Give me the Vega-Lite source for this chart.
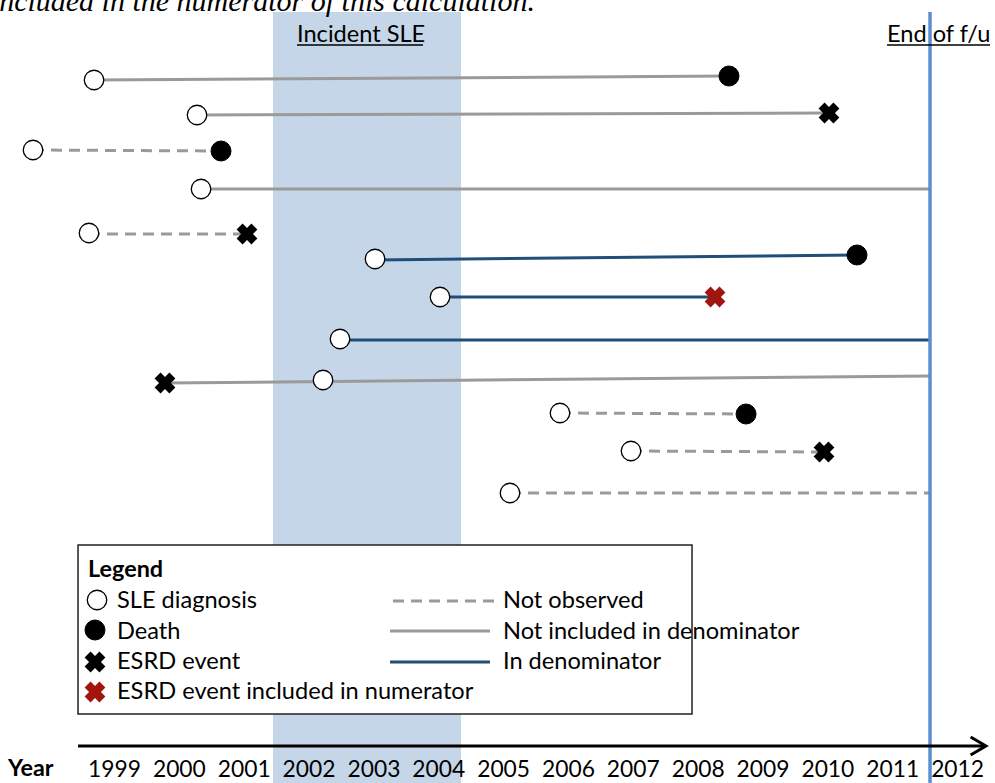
{
  "$schema": "https://vega.github.io/schema/vega-lite/v6.json",
  "width": 995,
  "height": 783,
  "autosize": "none",
  "padding": 0,
  "background": "white",
  "config": {"view": {"stroke": null}},
  "datasets": {
    "segments": [
      {"row": 1, "x": 1998.692, "y": 80, "x2": 2008.483, "y2": 76, "style": "gray"},
      {"row": 2, "x": 2000.280, "y": 115, "x2": 2010.025, "y2": 113, "style": "gray"},
      {"row": 3, "x": 1997.751, "y": 150, "x2": 2000.650, "y2": 151, "style": "dashed"},
      {"row": 4, "x": 2000.342, "y": 189, "x2": 2011.583, "y2": 189, "style": "gray"},
      {"row": 5, "x": 1998.614, "y": 234, "x2": 2001.051, "y2": 234, "style": "dashed"},
      {"row": 6, "x": 2003.025, "y": 260, "x2": 2010.457, "y2": 255, "style": "navy"},
      {"row": 7, "x": 2004.027, "y": 297, "x2": 2008.268, "y2": 297, "style": "navy"},
      {"row": 8, "x": 2002.485, "y": 340, "x2": 2011.583, "y2": 340, "style": "navy"},
      {"row": 9, "x": 1999.786, "y": 383, "x2": 2011.583, "y2": 376, "style": "gray"},
      {"row": 10, "x": 2005.877, "y": 413, "x2": 2008.746, "y2": 414, "style": "dashed"},
      {"row": 11, "x": 2006.972, "y": 451, "x2": 2009.948, "y2": 452, "style": "dashed"},
      {"row": 12, "x": 2005.106, "y": 493, "x2": 2011.583, "y2": 493, "style": "dashed"},
      {"row": "legend1", "x": 2003.302, "y": 601, "x2": 2004.906, "y2": 601, "style": "dashed"},
      {"row": "legend2", "x": 2003.256, "y": 631, "x2": 2004.798, "y2": 631, "style": "gray"},
      {"row": "legend3", "x": 2003.256, "y": 662, "x2": 2004.798, "y2": 662, "style": "navy"}
    ],
    "points": [
      {"x": 1998.692, "y": 80, "kind": "SLE diagnosis"},
      {"x": 2000.280, "y": 115, "kind": "SLE diagnosis"},
      {"x": 1997.751, "y": 150, "kind": "SLE diagnosis"},
      {"x": 2000.342, "y": 189, "kind": "SLE diagnosis"},
      {"x": 1998.614, "y": 233, "kind": "SLE diagnosis"},
      {"x": 2003.025, "y": 259, "kind": "SLE diagnosis"},
      {"x": 2004.027, "y": 297, "kind": "SLE diagnosis"},
      {"x": 2002.485, "y": 339, "kind": "SLE diagnosis"},
      {"x": 2002.223, "y": 380, "kind": "SLE diagnosis"},
      {"x": 2005.877, "y": 413, "kind": "SLE diagnosis"},
      {"x": 2006.972, "y": 451, "kind": "SLE diagnosis"},
      {"x": 2005.106, "y": 493, "kind": "SLE diagnosis"},
      {"x": 1998.738, "y": 600, "kind": "SLE diagnosis"},
      {"x": 2008.483, "y": 76, "kind": "Death"},
      {"x": 2000.650, "y": 151, "kind": "Death"},
      {"x": 2010.457, "y": 255, "kind": "Death"},
      {"x": 2008.746, "y": 414, "kind": "Death"},
      {"x": 1998.707, "y": 630, "kind": "Death"},
      {"x": 2010.025, "y": 113, "kind": "ESRD event"},
      {"x": 2001.051, "y": 234, "kind": "ESRD event"},
      {"x": 1999.786, "y": 383, "kind": "ESRD event"},
      {"x": 2009.948, "y": 452, "kind": "ESRD event"},
      {"x": 1998.707, "y": 662, "kind": "ESRD event"},
      {"x": 2008.268, "y": 297, "kind": "ESRD event included in numerator"},
      {"x": 1998.707, "y": 692, "kind": "ESRD event included in numerator"}
    ],
    "labels": [
      {"x": 2001.822, "y": 42, "text": "Incident SLE"},
      {"x": 2010.920, "y": 42, "text": "End of f/u"},
      {"x": 1999.046, "y": 608, "text": "SLE diagnosis"},
      {"x": 1999.046, "y": 639, "text": "Death"},
      {"x": 1999.046, "y": 669, "text": "ESRD event"},
      {"x": 1999.046, "y": 699, "text": "ESRD event included in numerator"},
      {"x": 2004.998, "y": 608, "text": "Not observed"},
      {"x": 2004.998, "y": 639, "text": "Not included in denominator"},
      {"x": 2004.998, "y": 669, "text": "In denominator"}
    ]
  },
  "encoding": {
    "x": {
      "field": "x",
      "type": "quantitative",
      "scale": {"domain": [1997.242, 2012.585], "nice": false, "zero": false},
      "axis": {
        "orient": "bottom",
        "offset": -37,
        "zindex": 1,
        "values": [1999, 2000, 2001, 2002, 2003, 2004, 2005, 2006, 2007, 2008, 2009, 2010, 2011, 2012],
        "format": "d",
        "domain": false,
        "ticks": false,
        "tickSize": 0,
        "grid": false,
        "labelPadding": 30,
        "labelBaseline": "alphabetic",
        "labelFont": "Lato",
        "labelFontSize": 22.8,
        "labelColor": "#000000",
        "labelOverlap": false,
        "labelFlush": false,
        "title": null
      }
    },
    "y": {
      "field": "y",
      "type": "quantitative",
      "scale": {"domain": [783, 0], "nice": false, "zero": false},
      "axis": null
    }
  },
  "layer": [
    {
      "data": {"values": [{"x": 2001.452, "x2": 2004.351, "y": 12, "y2": 790}]},
      "mark": {"type": "rect", "fill": "#c5d6e8"},
      "encoding": {"x2": {"field": "x2"}, "y2": {"field": "y2"}}
    },
    {
      "data": {"values": [{"x": 1998.445, "x2": 2007.913, "y": 545, "y2": 714}]},
      "mark": {"type": "rect", "fill": "white", "stroke": "#222222", "strokeWidth": 1.5},
      "encoding": {"x2": {"field": "x2"}, "y2": {"field": "y2"}}
    },
    {
      "data": {"name": "segments"},
      "transform": [{"filter": "datum.style === 'dashed'"}],
      "mark": {"type": "rule", "stroke": "#9a9a9a", "strokeWidth": 3, "strokeDash": [11, 7]},
      "encoding": {"x2": {"field": "x2"}, "y2": {"field": "y2"}}
    },
    {
      "data": {"name": "segments"},
      "transform": [{"filter": "datum.style === 'gray'"}],
      "mark": {"type": "rule", "stroke": "#9a9a9a", "strokeWidth": 3},
      "encoding": {"x2": {"field": "x2"}, "y2": {"field": "y2"}}
    },
    {
      "data": {"name": "segments"},
      "transform": [{"filter": "datum.style === 'navy'"}],
      "mark": {"type": "rule", "stroke": "#1f4e79", "strokeWidth": 3},
      "encoding": {"x2": {"field": "x2"}, "y2": {"field": "y2"}}
    },
    {
      "data": {"values": [{"x": 2011.583, "y": 12, "y2": 790}]},
      "mark": {"type": "rule", "stroke": "#5b8fd0", "strokeWidth": 3.5},
      "encoding": {"y2": {"field": "y2"}}
    },
    {
      "data": {"values": [{"x": 1998.445, "x2": 2012.43, "y": 746}]},
      "mark": {"type": "rule", "stroke": "#000000", "strokeWidth": 3},
      "encoding": {"x2": {"field": "x2"}}
    },
    {
      "data": {"values": [{"x": 2012.445, "y": 746}]},
      "mark": {"type": "point", "shape": "M-1.7,-1L0,0L-1.7,1", "size": 324, "filled": false, "stroke": "#000000", "strokeWidth": 3, "opacity": 1},
      "encoding": {}
    },
    {
      "data": {"name": "points"},
      "transform": [{"filter": "datum.kind === 'SLE diagnosis'"}],
      "mark": {"type": "point", "shape": "circle", "size": 380, "filled": true, "fill": "#ffffff", "stroke": "#000000", "strokeWidth": 1.3, "opacity": 1},
      "encoding": {}
    },
    {
      "data": {"name": "points"},
      "transform": [{"filter": "datum.kind === 'Death'"}],
      "mark": {"type": "point", "shape": "circle", "size": 400, "filled": true, "fill": "#000000", "stroke": "#000000", "strokeWidth": 1, "opacity": 1},
      "encoding": {}
    },
    {
      "data": {"name": "points"},
      "transform": [{"filter": "datum.kind === 'ESRD event'"}],
      "mark": {"type": "point", "shape": "cross", "angle": 45, "size": 441, "filled": true, "fill": "#000000", "strokeWidth": 0, "opacity": 1},
      "encoding": {}
    },
    {
      "data": {"name": "points"},
      "transform": [{"filter": "datum.kind === 'ESRD event included in numerator'"}],
      "mark": {"type": "point", "shape": "cross", "angle": 45, "size": 441, "filled": true, "fill": "#a0160f", "strokeWidth": 0, "opacity": 1},
      "encoding": {}
    },
    {
      "data": {"name": "labels"},
      "mark": {"type": "text", "font": "Lato", "fontSize": 23.6, "align": "left", "baseline": "alphabetic", "color": "#000000"},
      "encoding": {"text": {"field": "text"}}
    },
    {
      "data": {"values": [{"x": 1998.599, "y": 577, "text": "Legend"}, {"x": 1997.365, "y": 776, "text": "Year"}]},
      "mark": {"type": "text", "font": "Lato", "fontSize": 23.4, "fontWeight": "bold", "align": "left", "baseline": "alphabetic", "color": "#000000"},
      "encoding": {"text": {"field": "text"}}
    },
    {
      "data": {"values": [{"x": 1997.10, "y": 11, "text": "included in the numerator of this calculation."}]},
      "mark": {"type": "text", "font": "Liberation Serif", "fontSize": 30, "fontStyle": "italic", "align": "left", "baseline": "alphabetic", "color": "#000000"},
      "encoding": {"text": {"field": "text"}}
    },
    {
      "data": {"values": [{"x": 2001.822, "x2": 2003.765, "y": 45}, {"x": 2010.920, "x2": 2012.508, "y": 45}]},
      "mark": {"type": "rule", "stroke": "#000000", "strokeWidth": 1.5},
      "encoding": {"x2": {"field": "x2"}}
    }
  ]
}
